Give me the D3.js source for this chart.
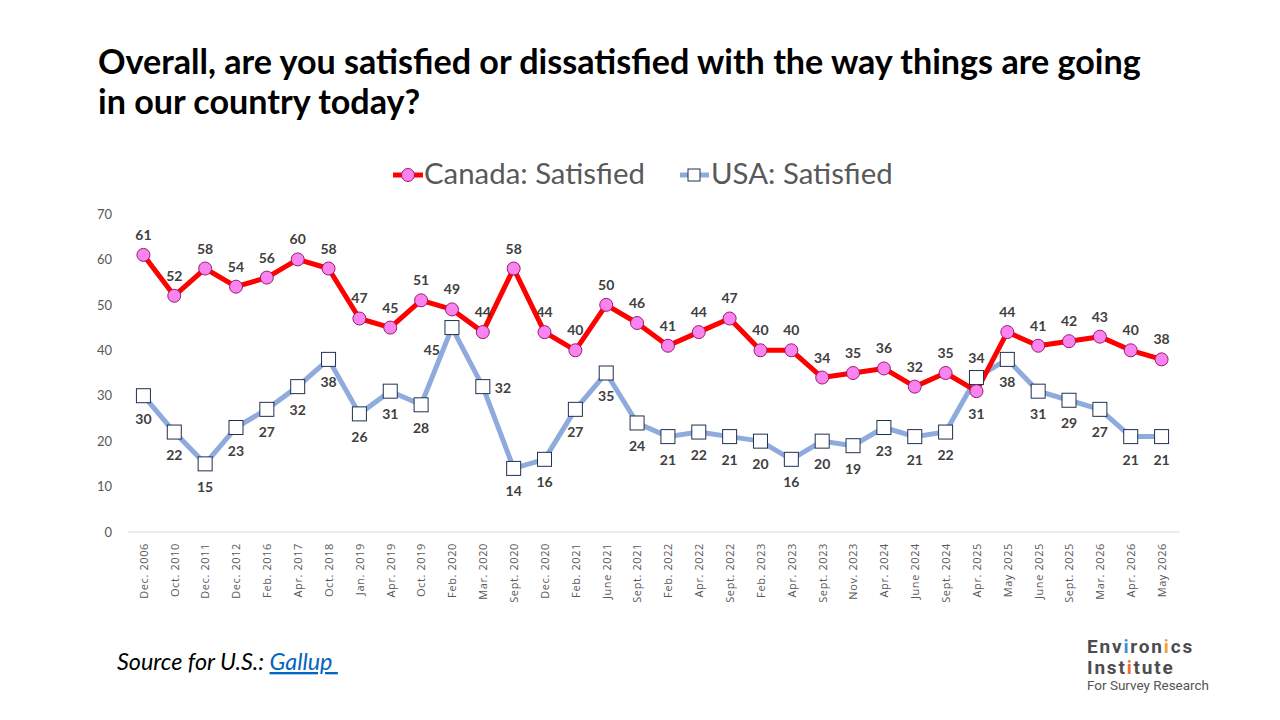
<!DOCTYPE html>
<html><head><meta charset="utf-8">
<script src="https://cdn.jsdelivr.net/npm/d3@7"></script>
<style>
html,body{margin:0;padding:0;background:#fff;}
svg{display:block;font-family:Lato, "Open Sans", sans-serif;}
</style></head><body>
<svg id="chart" width="1280" height="720"></svg>
<script>
const categories = ["Dec. 2006","Oct. 2010","Dec. 2011","Dec. 2012","Feb. 2016","Apr. 2017","Oct. 2018","Jan. 2019","Apr. 2019","Oct. 2019","Feb. 2020","Mar. 2020","Sept. 2020","Dec. 2020","Feb. 2021","June 2021","Sept. 2021","Feb. 2022","Apr. 2022","Sept. 2022","Feb. 2023","Apr. 2023","Sept. 2023","Nov. 2023","Apr. 2024","June 2024","Sept. 2024","Apr. 2025","May 2025","June 2025","Sept. 2025","Mar. 2026","Apr. 2026","May 2026"];
const canadaSatisfied = [61,52,58,54,56,60,58,47,45,51,49,44,58,44,40,50,46,41,44,47,40,40,34,35,36,32,35,31,44,41,42,43,40,38];
const usaSatisfied = [30,22,15,23,27,32,38,26,31,28,45,32,14,16,27,35,24,21,22,21,20,16,20,19,23,21,22,34,38,31,29,27,21,21];
const yTicks = [0,10,20,30,40,50,60,70];
const seriesNames = ["Canada: Satisfied","USA: Satisfied"];
const titleLines = ["Overall, are you satisfied or dissatisfied with the way things are going","in our country today?"];

// label placement overrides (index -> side)
const canadaLabelSide = {27:"below"};
const usaLabelSide = {10:"left", 11:"right", 27:"above"};

const svg = d3.select("#chart");

function fitText(sel, targetW){
  const w = sel.node().getComputedTextLength();
  const fs = parseFloat(sel.attr("font-size"));
  sel.attr("font-size", fs * targetW / w);
}
function spreadText(sel, targetW, nChars){
  const w = sel.node().getComputedTextLength();
  sel.attr("letter-spacing", ((targetW - w) / nChars) + "px");
}

// Title
const t1 = svg.append("text").attr("x",98).attr("y",74).attr("font-size",30)
  .attr("font-weight","bold").attr("fill","#000").text(titleLines[0]);
fitText(t1, 1043);
svg.append("text").attr("x",98).attr("y",114).attr("font-size",t1.attr("font-size"))
  .attr("font-weight","bold").attr("fill","#000").text(titleLines[1]);

const x = d3.scalePoint().domain(categories).range([128,1177]).padding(0.5);
const y = d3.scaleLinear().domain([0,70]).range([532,214]);

svg.append("line").attr("x1",128).attr("x2",1180).attr("y1",y(0)).attr("y2",y(0))
  .attr("stroke","#d9d9d9").attr("stroke-width",1);

const yAxis = d3.axisLeft(y).tickValues(yTicks).tickSize(0).tickPadding(0);
const yg = svg.append("g").attr("transform","translate(112,0)").call(yAxis);
yg.select(".domain").remove();
yg.selectAll("text").attr("font-size",13).attr("fill","#595959")
  .attr("font-family","Lato, 'Open Sans', sans-serif");

const xAxis = d3.axisBottom(x).tickSize(0).tickPadding(0);
const xg = svg.append("g").attr("transform",`translate(0,${y(0)})`).call(xAxis);
xg.select(".domain").remove();
xg.selectAll("text").attr("font-size",11).attr("fill","#595959")
  .attr("font-family","'Open Sans', Lato, sans-serif")
  .attr("letter-spacing","0.6px")
  .attr("transform","rotate(-90)").attr("text-anchor","end")
  .attr("x",-11).attr("y",0).attr("dy","0.35em");

const line = d3.line().x((d,i)=>x(categories[i])).y(d=>y(d));

svg.append("path").datum(usaSatisfied).attr("d",line).attr("fill","none")
  .attr("stroke","#8faadc").attr("stroke-width",5).attr("stroke-linejoin","round");
svg.append("path").datum(canadaSatisfied).attr("d",line).attr("fill","none")
  .attr("stroke","#ff0000").attr("stroke-width",5).attr("stroke-linejoin","round");

svg.append("g").selectAll("rect").data(usaSatisfied).join("rect")
  .attr("x",(d,i)=>x(categories[i])-7).attr("y",d=>y(d)-7)
  .attr("width",14).attr("height",14).attr("fill","#fff")
  .attr("stroke","#1f3050").attr("stroke-width",1);

svg.append("g").selectAll("circle").data(canadaSatisfied).join("circle")
  .attr("cx",(d,i)=>x(categories[i])).attr("cy",d=>y(d)).attr("r",6.5)
  .attr("fill","#f984ef").attr("stroke","#9c1a6e").attr("stroke-width",1);

function labelPos(side, px, py){
  if(side==="above") return [px, py-15, "middle"];
  if(side==="below") return [px, py+28, "middle"];
  if(side==="left") return [px-12, py+27, "end"];
  if(side==="right") return [px+12, py+6, "start"];
}
function drawLabels(data, defSide, overrides){
  svg.append("g").selectAll("text").data(data).join("text")
    .each(function(d,i){
      const side = overrides[i] || defSide;
      const [lx,ly,anc] = labelPos(side, x(categories[i]), y(d));
      d3.select(this).attr("x",lx).attr("y",ly).attr("text-anchor",anc);
    })
    .attr("font-size",14).attr("font-weight","bold").attr("fill","#404040")
    .text(d=>d);
}
drawLabels(canadaSatisfied, "above", canadaLabelSide);
drawLabels(usaSatisfied, "below", usaLabelSide);

// Legend
const lg = svg.append("g");
lg.append("line").attr("x1",393).attr("x2",423).attr("y1",175).attr("y2",175)
  .attr("stroke","#ff0000").attr("stroke-width",5);
lg.append("circle").attr("cx",408).attr("cy",175).attr("r",6.5)
  .attr("fill","#f984ef").attr("stroke","#9c1a6e").attr("stroke-width",1);
const l1 = lg.append("text").attr("x",424).attr("y",184).attr("font-size",26)
  .attr("fill","#595959").text(seriesNames[0]);
fitText(l1, 221);
lg.append("line").attr("x1",680).attr("x2",709).attr("y1",175).attr("y2",175)
  .attr("stroke","#8faadc").attr("stroke-width",5);
lg.append("rect").attr("x",688).attr("y",169).attr("width",12).attr("height",12)
  .attr("fill","#fff").attr("stroke","#1f3050").attr("stroke-width",1);
lg.append("text").attr("x",711).attr("y",184).attr("font-size",l1.attr("font-size"))
  .attr("fill","#595959").text(seriesNames[1]);

// Source
const src = svg.append("text").attr("x",117).attr("y",670).attr("font-size",19)
  .attr("font-style","italic").attr("fill","#000");
src.append("tspan").text("Source for U.S.: ");
src.append("tspan").attr("fill","#0563c1").attr("text-decoration","underline").text("Gallup\u00a0");
fitText(src, 221);

// Logo
const logo = svg.append("g").attr("font-family","Roboto, Lato, sans-serif");
const e = logo.append("text").attr("x",1087).attr("y",653).attr("font-size",19)
  .attr("font-weight","bold").attr("fill","#4d4d4f");
e.append("tspan").text("Env");
e.append("tspan").attr("fill","#3a8fd0").text("i");
e.append("tspan").text("ron");
e.append("tspan").attr("fill","#f2a431").text("i");
e.append("tspan").text("cs");
spreadText(e, 107, 10);
const ins = logo.append("text").attr("x",1087).attr("y",674).attr("font-size",19)
  .attr("font-weight","bold").attr("fill","#4d4d4f").attr("letter-spacing",e.attr("letter-spacing"));
ins.append("tspan").text("Inst");
ins.append("tspan").attr("fill","#ec6f2d").text("i");
ins.append("tspan").text("tute");
const fsr = logo.append("text").attr("x",1087).attr("y",690).attr("font-size",13)
  .attr("fill","#555").text("For Survey Research");
fitText(fsr, 122);
</script>
</body></html>
